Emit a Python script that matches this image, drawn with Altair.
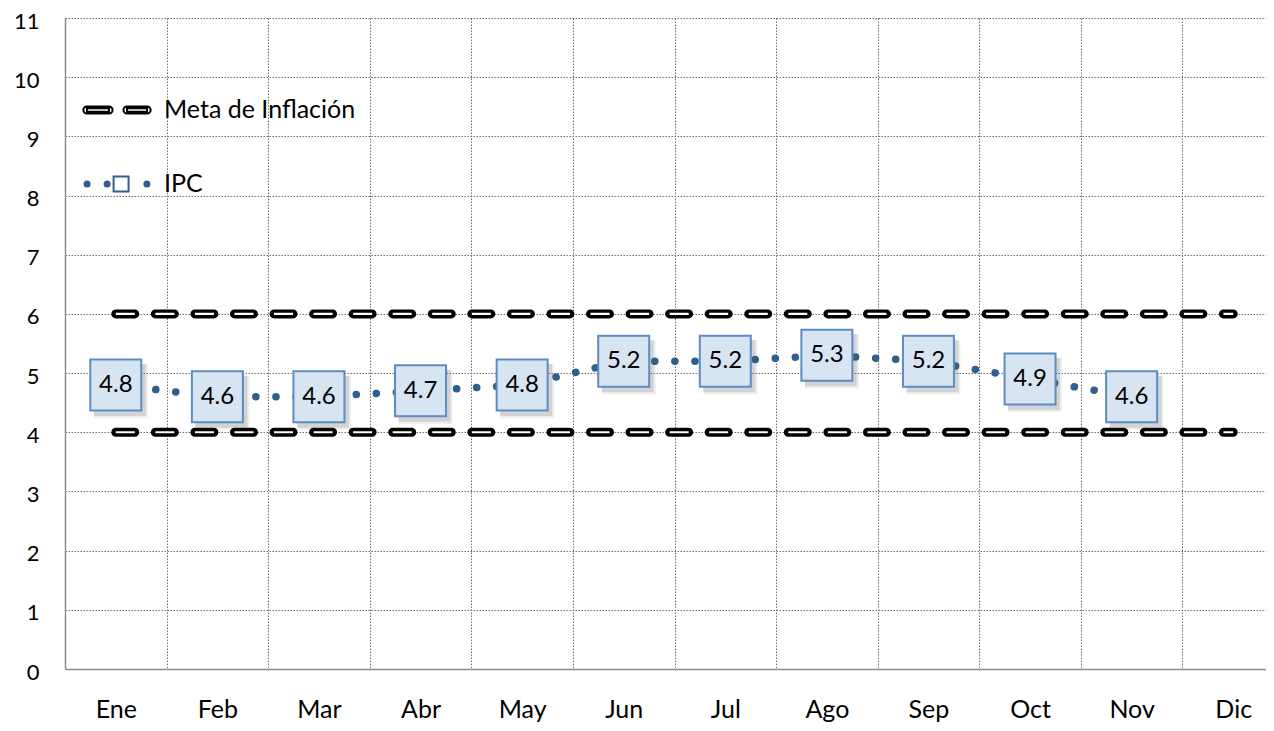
import altair as alt
import pandas as pd

# ---- data ----
meses = ["Ene", "Feb", "Mar", "Abr", "May", "Jun", "Jul", "Ago", "Sep", "Oct", "Nov", "Dic"]
ipc_meses = ["Ene", "Feb", "Mar", "Abr", "May", "Jun", "Jul", "Ago", "Sep", "Oct", "Nov"]
ipc_valores = [4.8, 4.6, 4.6, 4.7, 4.8, 5.2, 5.2, 5.3, 5.2, 4.9, 4.6]
meta_superior = [6, 6, 6, 6, 6, 6, 6, 6, 6, 6, 6, 6]
meta_inferior = [4, 4, 4, 4, 4, 4, 4, 4, 4, 4, 4, 4]
series = ["Meta de Inflación", "IPC"]
y_ticks = [0, 1, 2, 3, 4, 5, 6, 7, 8, 9, 10, 11]

df_ipc = pd.DataFrame({"mes": ipc_meses, "valor": ipc_valores})
df_meta = pd.DataFrame({
    "mes": meses + meses,
    "valor": meta_superior + meta_inferior,
    "limite": ["sup"] * len(meses) + ["inf"] * len(meses),
})
df_leg = pd.DataFrame({"serie": series})

FONT = "Lato"

# ---- legend symbol paths (unit box -1..1) ----
def f(v):
    return f"{v:.4f}"

def capsule(x0, x1, h, w):
    k = 0.5523 * h
    a, b = x0 + h, x1 - h
    p = (f"M{f(a)},{f(-h)}L{f(b)},{f(-h)}"
         f"C{f(b + k)},{f(-h)} {f(x1)},{f(-k)} {f(x1)},0"
         f"C{f(x1)},{f(k)} {f(b + k)},{f(h)} {f(b)},{f(h)}"
         f"L{f(a)},{f(h)}"
         f"C{f(a - k)},{f(h)} {f(x0)},{f(k)} {f(x0)},0"
         f"C{f(x0)},{f(-k)} {f(a - k)},{f(-h)} {f(a)},{f(-h)}Z")
    hole = f"M{f(a)},{f(-w)}L{f(a)},{f(w)}L{f(b)},{f(w)}L{f(b)},{f(-w)}Z"
    return p + hole

def circle(cx, r):
    k = 0.5523 * r
    return (f"M{f(cx)},{f(-r)}"
            f"C{f(cx + k)},{f(-r)} {f(cx + r)},{f(-k)} {f(cx + r)},0"
            f"C{f(cx + r)},{f(k)} {f(cx + k)},{f(r)} {f(cx)},{f(r)}"
            f"C{f(cx - k)},{f(r)} {f(cx - r)},{f(k)} {f(cx - r)},0"
            f"C{f(cx - r)},{f(-k)} {f(cx - k)},{f(-r)} {f(cx)},{f(-r)}Z")

def dot(cx):
    # concentric rings so the stroke covers the whole dot
    return circle(cx, 0.03) + circle(cx, 0.075)

h = 0.105
meta_path = capsule(-0.99, -0.13, h, 0.05) + capsule(0.19, 0.99, h, 0.05)
sq_c, sq_h = 0.12, 0.22
ipc_path = (dot(-0.88) + dot(-0.29) + dot(0.88)
            + f"M{f(sq_c - sq_h)},{f(-sq_h)}L{f(sq_c + sq_h)},{f(-sq_h)}"
              f"L{f(sq_c + sq_h)},{f(sq_h)}L{f(sq_c - sq_h)},{f(sq_h)}Z")

# ---- encodings ----
x_enc = alt.X(
    "mes:N",
    sort=meses,
    scale=alt.Scale(type="band", domain=meses, range=[0, 1219], paddingInner=0, paddingOuter=0),
    axis=alt.Axis(title=None, labelAngle=0, tickBand="extent", grid=True,
                  labelPadding=28, labelFontSize=25),
)
y_enc = alt.Y(
    "valor:Q",
    scale=alt.Scale(domain=[0, 11], nice=False),
    axis=alt.Axis(title=None, values=y_ticks, grid=True, labelPadding=26,
                  labelFontSize=22, labelOffset=3),
)

meta_black = alt.Chart(df_meta).mark_line(
    color="black", strokeWidth=9, strokeDash=[19, 20.56], strokeCap="round"
).encode(x=x_enc, y=y_enc, detail="limite:N")

meta_white = alt.Chart(df_meta).mark_line(
    color="white", strokeWidth=2.2, strokeDash=[19, 20.56], strokeCap="butt"
).encode(x=x_enc, y=y_enc, detail="limite:N")

ipc_line = alt.Chart(df_ipc).mark_line(
    color="#2F5F8C", strokeWidth=7.5, strokeDash=[0.1, 20], strokeCap="round"
).encode(x=x_enc, y=y_enc)

shadow1 = alt.Chart(df_ipc).mark_point(
    shape="square", filled=True, color="#5a5a5a", opacity=0.18, size=2704, xOffset=4, yOffset=5
).encode(x=x_enc, y=y_enc)
shadow2 = alt.Chart(df_ipc).mark_point(
    shape="square", filled=True, color="#5a5a5a", opacity=0.10, size=2916, xOffset=5, yOffset=6
).encode(x=x_enc, y=y_enc)

squares = alt.Chart(df_ipc).mark_point(
    shape="square", filled=True, fill="#D7E4F1", stroke="#5B8DC2", strokeWidth=2,
    size=2601, opacity=1
).encode(x=x_enc, y=y_enc)

labels = alt.Chart(df_ipc).mark_text(
    font=FONT, fontSize=24, color="black", align="center", baseline="middle"
).encode(x=x_enc, y=y_enc, text=alt.Text("valor:Q", format=".1f"))

leg = alt.Legend(
    title=None, orient="none", legendX=17, legendY=57, padding=0,
    symbolSize=4624, symbolStrokeWidth=2, rowPadding=26, labelOffset=12,
    labelFont=FONT, labelFontSize=25, labelColor="black", labelLimit=400,
    direction="vertical",
)
legend_layer = alt.Chart(df_leg).mark_point(filled=True, opacity=0).encode(
    shape=alt.Shape("serie:N", scale=alt.Scale(domain=series, range=[meta_path, ipc_path]), legend=leg),
    fill=alt.Fill("serie:N", scale=alt.Scale(domain=series, range=["#000000", "#D7E4F1"]), legend=leg),
    stroke=alt.Stroke("serie:N", scale=alt.Scale(domain=series, range=["#000000", "#2F5F8C"]), legend=leg),
)

chart = alt.layer(
    meta_black, meta_white, ipc_line, shadow2, shadow1, squares, labels, legend_layer
).properties(
    width=1201, height=651,
    autosize=alt.AutoSizeParams(type="none"),
    padding={"left": 57, "top": 10, "right": 0, "bottom": 53},
).configure_view(
    fill="#E8EDF5", stroke=None
).configure_axis(
    labelFont=FONT, labelColor="black", ticks=False,
    domainColor="#8a8a8a", domainWidth=1.5,
    gridColor="#6f6f6f", gridDash=[1.5, 1.5], gridWidth=1,
)

chart.save("out.html", embed_options={"renderer": "svg", "actions": False})
